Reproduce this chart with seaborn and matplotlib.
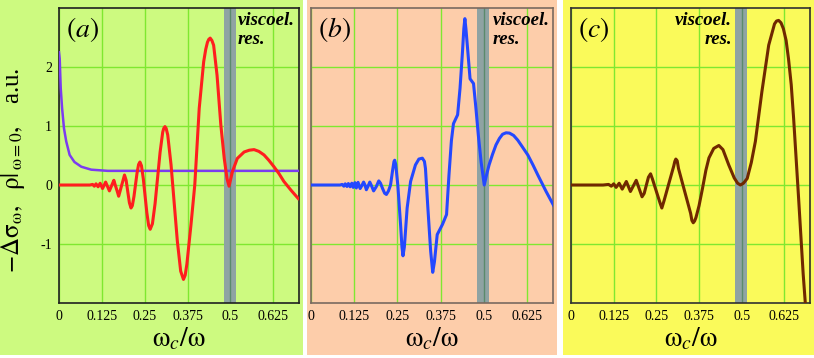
# three panels: -delta sigma vs omega_c/omega, with viscoelastic resonance band

import numpy as np
import pandas as pd
import matplotlib
matplotlib.use('Agg')
from matplotlib import pyplot as plt
from matplotlib.patches import Rectangle
import seaborn as sns

# x ticks
x_ticks = [0, 0.125, 0.25, 0.375, 0.5, 0.625]
x_tick_labels = ['0', '0.125', '0.25', '0.375', '0.5', '0.625']
y_ticks = [-1, 0, 1, 2]
y_tick_labels = ['-1', '0', '1', '2']

# panel (a): rho at omega = 0 (purple)
rho_x = [0.0, 0.002, 0.005, 0.009, 0.0145, 0.021, 0.031, 0.045, 0.065, 0.094, 0.142, 0.7]
rho_y = [2.25, 2.14, 1.64, 1.30, 0.96, 0.74, 0.51, 0.39, 0.31, 0.26, 0.24, 0.24]

# panel (a): -delta sigma (red)
a_x = [0.0, 0.09, 0.098, 0.103, 0.108, 0.114, 0.120, 0.127, 0.136, 0.147, 0.1535,
       0.160, 0.1635, 0.167, 0.1705, 0.174, 0.1783, 0.1825, 0.1868, 0.191, 0.1958,
       0.2005, 0.2053, 0.210, 0.2139, 0.2186, 0.223, 0.2274, 0.2321, 0.236, 0.2405,
       0.2459, 0.251, 0.2561, 0.2615, 0.266, 0.2725, 0.2802, 0.2875, 0.2948, 0.3025,
       0.3055, 0.309, 0.3125, 0.3171, 0.3268, 0.336, 0.3452, 0.3549, 0.363, 0.368,
       0.373, 0.385, 0.396, 0.409, 0.422, 0.428, 0.433, 0.437, 0.441, 0.446,
       0.451, 0.461, 0.472, 0.482, 0.490, 0.496, 0.506, 0.520, 0.540, 0.555,
       0.569, 0.583, 0.598, 0.612, 0.627, 0.642, 0.656, 0.677, 0.698]
a_y = [0.0, 0.0, 0.01, -0.02, 0.02, -0.03, 0.03, -0.06, 0.05, -0.10, -0.01,
       0.08, 0.01, -0.055, -0.12, -0.19, -0.10, -0.01, 0.08, 0.17, 0.08,
       -0.11, -0.30, -0.39, -0.35, -0.195, 0.0, 0.195, 0.348, 0.39, 0.328,
       0.105, -0.18, -0.465, -0.688, -0.75, -0.656, -0.315, 0.12, 0.555, 0.896,
       0.96, 0.99, 0.96, 0.85, 0.343, -0.305, -0.953, -1.46, -1.60, -1.53,
       -1.34, -0.67, 0.0, 1.30, 2.09, 2.30, 2.42, 2.47, 2.49, 2.45,
       2.37, 1.86, 1.02, 0.45, 0.11, -0.02, 0.23, 0.45, 0.56, 0.59,
       0.60, 0.57, 0.51, 0.42, 0.31, 0.19, 0.06, -0.09, -0.23]

# panel (b): -delta sigma (blue)
b_x = [0.0, 0.084, 0.090, 0.095, 0.099, 0.104, 0.108, 0.113, 0.118, 0.122, 0.127,
       0.131, 0.136, 0.142, 0.147, 0.152, 0.156, 0.160, 0.165, 0.170, 0.1755,
       0.181, 0.1885, 0.196, 0.201, 0.207, 0.213, 0.218, 0.224, 0.230, 0.236,
       0.240, 0.242, 0.245, 0.251, 0.259, 0.263, 0.266, 0.270, 0.278, 0.288,
       0.302, 0.312, 0.322, 0.328, 0.331, 0.338, 0.346, 0.352, 0.357, 0.365,
       0.380, 0.392, 0.399, 0.406, 0.412, 0.424, 0.431, 0.438, 0.442, 0.445,
       0.448, 0.453, 0.460, 0.470, 0.477, 0.484, 0.492, 0.501, 0.508, 0.515,
       0.525, 0.535, 0.545, 0.554, 0.564, 0.574, 0.586, 0.598, 0.612, 0.627,
       0.642, 0.656, 0.668, 0.680, 0.691, 0.702]
b_y = [0.0, 0.0, 0.01, -0.02, 0.02, -0.025, 0.025, -0.03, 0.03, -0.04, 0.04,
       -0.05, 0.045, -0.06, -0.01, 0.05, 0.0, -0.08, -0.02, 0.05, -0.02,
       -0.10, -0.03, 0.07, 0.03, -0.06, -0.14, -0.16, -0.10, 0.0, 0.25,
       0.40, 0.42, 0.35, 0.0, -0.67, -1.05, -1.20, -1.05, -0.39, 0.06,
       0.34, 0.44, 0.455, 0.40, 0.28, -0.39, -1.12, -1.48, -1.30, -0.84,
       -0.67, -0.50, 0.17, 0.75, 1.04, 1.19, 1.64, 2.25, 2.65, 2.82,
       2.65, 2.30, 1.80, 1.72, 1.30, 0.84, 0.39, 0.0, 0.18, 0.34,
       0.52, 0.68, 0.79, 0.86, 0.885, 0.88, 0.84, 0.76, 0.64, 0.51,
       0.34, 0.17, 0.03, -0.11, -0.23, -0.35]

# panel (c): -delta sigma (brown)
c_x = [0.0, 0.094, 0.110, 0.118, 0.125, 0.132, 0.141, 0.1455, 0.150, 0.156, 0.162,
       0.168, 0.174, 0.1825, 0.191, 0.1995, 0.208, 0.2143, 0.2205, 0.2268, 0.233,
       0.2383, 0.2495, 0.2608, 0.266, 0.2723, 0.2865, 0.3008, 0.304, 0.307, 0.311,
       0.3148, 0.3325, 0.3503, 0.354, 0.358, 0.362, 0.366, 0.375, 0.385, 0.395,
       0.404, 0.418, 0.433, 0.445, 0.462, 0.478, 0.488, 0.496, 0.505, 0.516,
       0.528, 0.540, 0.559, 0.579, 0.596, 0.602, 0.608, 0.615, 0.622, 0.630,
       0.637, 0.645, 0.652, 0.666, 0.680, 0.690]
c_y = [0.0, 0.0, 0.01, -0.02, 0.02, -0.04, 0.03, -0.02, -0.07, -0.005, 0.06,
       -0.025, -0.11, -0.015, 0.08, -0.06, -0.20, -0.143, -0.005, 0.133, 0.19,
       0.105, -0.10, -0.305, -0.39, -0.27, 0.025, 0.32, 0.40, 0.44, 0.41,
       0.28, -0.10, -0.48, -0.60, -0.64, -0.61, -0.55, -0.35, -0.06, 0.25,
       0.46, 0.62, 0.67, 0.60, 0.34, 0.12, 0.03, 0.0, 0.03, 0.11,
       0.38, 0.74, 1.58, 2.37, 2.73, 2.78, 2.79, 2.75, 2.65, 2.45,
       2.14, 1.70, 1.13, -0.17, -1.51, -2.3]

band = (0.481, 0.515)

plt.rcParams['font.family'] = ['Liberation Serif', 'DejaVu Serif']
plt.rcParams['mathtext.fontset'] = 'stix'

grid_color = '#7fe830'

fig = plt.figure(figsize=(8.14, 3.58), dpi=100)
fig.patch.set_facecolor('white')

panels = [
    dict(bg='#cdfa80', rect=(0.0, 0.3722), pos=[0.0725, 0.1536, 0.2948, 0.824],
         spine='#202020', label='$(a)$', text_x=0.522, ha='left'),
    dict(bg='#fdcdaa', rect=(0.3771, 0.3071), pos=[0.3821, 0.1536, 0.2973, 0.824],
         spine='#7a6a60', label='$(b)$', text_x=0.526, ha='left'),
    dict(bg='#fafa5a', rect=(0.6916, 0.3084), pos=[0.7015, 0.1536, 0.2936, 0.824],
         spine='#303030', label='$(c)$', text_x=0.472, ha='right'),
]

curves = [
    [(rho_x, rho_y, '#7b3cf0', 1.8), (a_x, a_y, '#ff1e1e', 2.2)],
    [(b_x, b_y, '#2448ff', 2.2)],
    [(c_x, c_y, '#702800', 2.2)],
]

for i, p in enumerate(panels):
    fig.add_artist(Rectangle((p['rect'][0], 0.0084), p['rect'][1], 1.0,
                             transform=fig.transFigure, facecolor=p['bg'],
                             edgecolor='none', zorder=0))
    ax = fig.add_axes(p['pos'])
    ax.set_facecolor(p['bg'])
    ax.set_xlim(0, 0.7)
    ax.set_ylim(-2, 3)
    ax.set_xticks(x_ticks)
    ax.set_xticklabels(x_tick_labels)
    ax.set_yticks(y_ticks)
    if i == 0:
        ax.set_yticklabels(y_tick_labels)
    else:
        ax.set_yticklabels([])
    ax.tick_params(length=0, labelsize=10, pad=5)
    ax.grid(True, color=grid_color, linewidth=1)
    ax.set_axisbelow(True)
    for s in ax.spines.values():
        s.set_color(p['spine'])
        s.set_linewidth(1.2)

    ax.axvspan(band[0], band[1], color='#8fa3a3', zorder=1, linewidth=0)
    ax.axvline(0.5, color='#5b8a6c', linewidth=1, zorder=1.1)

    for cx, cy, col, lw in curves[i]:
        df = pd.DataFrame({'x': cx, 'y': cy})
        sns.lineplot(data=df, x='x', y='y', ax=ax, color=col, linewidth=lw,
                     zorder=3, estimator=None)

    ax.set_xlabel(r'$\mathrm{\omega}_c/\mathrm{\omega}$', fontsize=20, labelpad=2)
    ax.set_ylabel('')
    ax.text(0.03, 0.975, p['label'], transform=ax.transAxes, fontsize=20,
            va='top', ha='left')
    ax.text(p['text_x'], 0.985, 'viscoel.\nres.', transform=ax.get_xaxis_transform(),
            fontsize=13.5, fontstyle='italic', fontweight='bold', va='top',
            ha=p['ha'], linespacing=1.15, zorder=4)
    if i == 0:
        ax.set_ylabel(r'$-\Delta\mathrm{\sigma}_\mathrm{\omega},\ \ \mathrm{\rho}|_{\,\mathrm{\omega}=0},\ \ $ a.u.',
                      fontsize=18)
        ax.yaxis.set_label_coords(-0.135, 0.45)

fig.savefig('out.png', dpi=100)
